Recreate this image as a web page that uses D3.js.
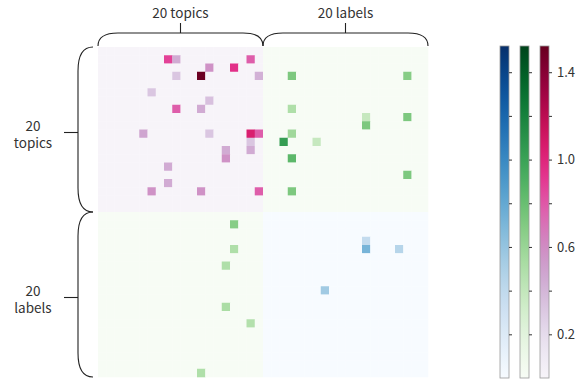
<!DOCTYPE html>
<html>
<head>
<meta charset="utf-8">
<script src="https://cdn.jsdelivr.net/npm/d3@7"></script>
<style>
    body { margin: 0; background: #fff; }
    text { font-family: "Noto Sans CJK SC", "Noto Sans", sans-serif; fill: #333; }
</style>
</head>
<body>
<svg id="chart" width="585" height="379"></svg>
<script>
/*global d3 */

//block names, in order along both axes
var blocks = ["20 topics", "20 labels"];

//non-zero cells of each 20x20 block as [row, col, value]
var topicTopic = [
    [1, 8, 0.88], [1, 9, 0.45], [1, 18, 0.78],
    [2, 13, 0.57], [2, 16, 0.95],
    [3, 9, 0.32], [3, 12, 1.5], [3, 19, 0.42],
    [5, 6, 0.32], [6, 13, 0.35],
    [7, 9, 0.78], [7, 12, 0.45],
    [10, 5, 0.48], [10, 13, 0.32], [10, 18, 1.05], [10, 19, 0.78],
    [11, 18, 0.32],
    [12, 15, 0.45], [12, 18, 0.45],
    [13, 15, 0.57],
    [14, 8, 0.45], [16, 8, 0.45],
    [17, 6, 0.57], [17, 12, 0.57], [17, 19, 0.78]
];
var topicLabel = [
    [3, 3, 0.72], [3, 17, 0.68], [7, 3, 0.5], [8, 12, 0.38],
    [8, 17, 0.72], [9, 12, 0.72], [10, 3, 0.57], [11, 2, 1.03],
    [11, 6, 0.38], [13, 3, 0.85], [15, 17, 0.72], [17, 3, 0.72]
];
var labelTopic = [
    [1, 16, 0.68], [4, 16, 0.5], [6, 15, 0.5],
    [11, 15, 0.52], [13, 18, 0.48], [19, 12, 0.5]
];
var labelLabel = [
    [3, 12, 0.38], [4, 12, 0.72], [4, 16, 0.45], [9, 7, 0.55]
];

//colour bar ticks
var barTicks = [0.2, 0.4, 0.6, 0.8, 1.0, 1.2, 1.4];
var barLabels = [0.2, 0.6, 1.0, 1.4];

(function () {
    "use strict";

    var svg = d3.select("#chart"),
        n = 20,
        vmax = 1.52,
        hm = {x0: 98, x1: 428, y0: 47, y1: 377},
        x, y, cells = [], quads;

    x = d3.scaleBand().domain(d3.range(2 * n)).range([hm.x0, hm.x1]);
    y = d3.scaleBand().domain(d3.range(2 * n)).range([hm.y0, hm.y1]);

    //quadrant definitions: data, offsets and colour map
    quads = [
        {data: topicTopic, r: 0, c: 0, cmap: d3.interpolatePuRd},
        {data: topicLabel, r: 0, c: n, cmap: d3.interpolateGreens},
        {data: labelTopic, r: n, c: 0, cmap: d3.interpolateGreens},
        {data: labelLabel, r: n, c: n, cmap: d3.interpolateBlues}
    ];

    //fill the full matrix so every cell gets drawn
    quads.forEach(function (q) {
        var grid = d3.range(n * n).map(function () { return 0; });
        q.data.forEach(function (d) {
            grid[d[0] * n + d[1]] = d[2]; });
        grid.forEach(function (v, i) {
            cells.push({row: q.r + Math.floor(i / n),
                        col: q.c + (i % n),
                        v: v, cmap: q.cmap}); });
    });

    svg.append("g").selectAll("rect")
        .data(cells)
        .join("rect")
        .attr("x", function (d) { return x(d.col); })
        .attr("y", function (d) { return y(d.row); })
        .attr("width", x.bandwidth() + 0.3)
        .attr("height", y.bandwidth() + 0.3)
        .attr("fill", function (d) {
            return d.cmap(Math.min(d.v / vmax, 1)); });

    //brackets along the top
    var bg = svg.append("g")
        .attr("fill", "none")
        .attr("stroke", "#222")
        .attr("stroke-width", 1.1);
    var half = x.bandwidth() * n;
    blocks.forEach(function (name, i) {
        var a = hm.x0 + i * half, b = a + half, yl = 33, ye = 46,
            mid = (a + b) / 2;
        bg.append("path")
            .attr("d", "M" + a + "," + ye +
                  " Q" + a + "," + yl + " " + (a + 20) + "," + yl +
                  " L" + (b - 20) + "," + yl +
                  " Q" + b + "," + yl + " " + b + "," + ye);
        bg.append("line")
            .attr("x1", mid).attr("x2", mid)
            .attr("y1", yl).attr("y2", 23);
        svg.append("text")
            .attr("x", mid)
            .attr("y", 18)
            .attr("text-anchor", "middle")
            .attr("font-size", 13.5)
            .text(name);
    });

    //brackets down the left side, label split on two lines
    blocks.forEach(function (name, i) {
        var a = hm.y0 + i * half, b = a + half, xl = 78, xe = 93,
            mid = (a + b) / 2, words = name.split(" ");
        bg.append("path")
            .attr("d", "M" + xe + "," + a +
                  " Q" + xl + "," + a + " " + xl + "," + (a + 24) +
                  " L" + xl + "," + (b - 24) +
                  " Q" + xl + "," + b + " " + xe + "," + b);
        bg.append("line")
            .attr("x1", 64).attr("x2", xl)
            .attr("y1", mid + 3).attr("y2", mid + 3);
        words.forEach(function (w, j) {
            svg.append("text")
                .attr("x", 33)
                .attr("y", mid + 1 + j * 17)
                .attr("text-anchor", "middle")
                .attr("font-size", 13.5)
                .text(w); });
    });

    //colour bars
    var cy = d3.scaleLinear().domain([0, vmax]).range([378, 46]),
        bars = [
            {cmap: d3.interpolateBlues, x: 500, id: "gb"},
            {cmap: d3.interpolateGreens, x: 520, id: "gg"},
            {cmap: d3.interpolatePuRd, x: 540, id: "gp"}
        ],
        defs = svg.append("defs"),
        bw = 9;

    bars.forEach(function (bar, i) {
        var grad = defs.append("linearGradient")
            .attr("id", bar.id)
            .attr("x1", 0).attr("x2", 0)
            .attr("y1", 1).attr("y2", 0);
        d3.range(0, 1.0001, 0.05).forEach(function (t) {
            grad.append("stop")
                .attr("offset", t)
                .attr("stop-color", bar.cmap(t)); });
        svg.append("rect")
            .attr("x", bar.x)
            .attr("y", cy(vmax))
            .attr("width", bw)
            .attr("height", cy(0) - cy(vmax))
            .attr("fill", "url(#" + bar.id + ")")
            .attr("stroke", "#999")
            .attr("stroke-width", 0.8);
        var ax = svg.append("g")
            .attr("transform", "translate(" + (bar.x + bw) + ",0)")
            .call(d3.axisRight(cy)
                  .tickValues(barTicks)
                  .tickSize(3)
                  .tickPadding(5)
                  .tickFormat(function (d) {
                      if(i < bars.length - 1) {
                          return ""; }
                      return barLabels.some(function (b) {
                          return Math.abs(b - d) < 1e-6; })
                          ? d3.format(".1f")(d) : ""; }));
        ax.select(".domain").remove();
        ax.selectAll("line").attr("stroke", "#333");
        ax.selectAll("text")
            .attr("font-size", 13)
            .attr("fill", "#333")
            .style("font-family", "'Noto Sans CJK SC', 'Noto Sans', sans-serif");
    });
}());
</script>
</body>
</html>
